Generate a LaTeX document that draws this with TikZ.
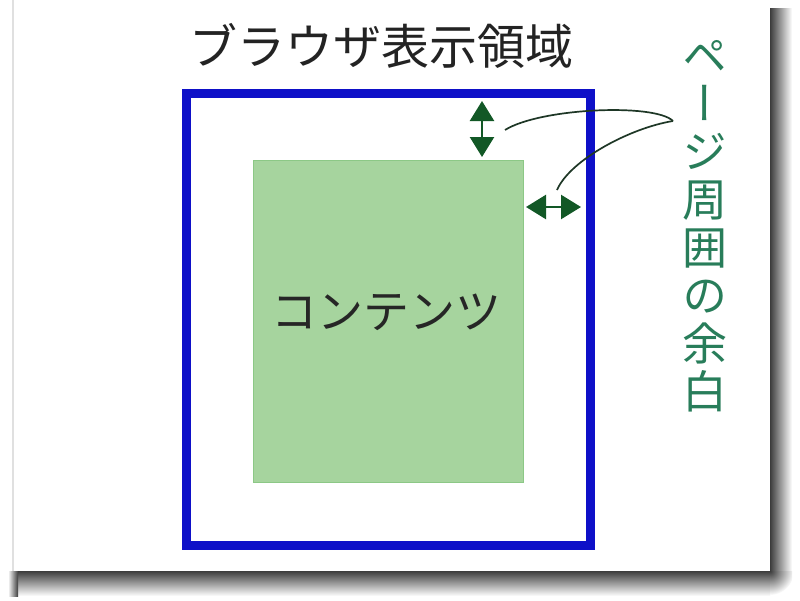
\documentclass[tikz,border=0pt]{standalone}
\usepackage{fontspec}
\usetikzlibrary{arrows.meta}
\newfontfamily\cjk{Noto Sans CJK JP}
\newfontfamily\cjkv[RawFeature={+vert}]{Noto Sans CJK JP}
\definecolor{frameblue}{RGB}{14,16,200}
\definecolor{contfill}{RGB}{166,212,158}
\definecolor{contedge}{RGB}{140,200,134}
\definecolor{arrgreen}{RGB}{18,88,38}
\definecolor{leadcol}{RGB}{30,55,38}
\definecolor{sidetext}{RGB}{40,125,90}
\definecolor{titlecol}{RGB}{35,35,35}
\definecolor{shadowcol}{RGB}{60,60,60}
\tikzset{
  framebox/.style={draw=frameblue, line width=9pt},
  contbox/.style={draw=contedge, fill=contfill, line width=1pt},
  marg/.style={draw=arrgreen, line width=2.5pt, {Triangle[width=24pt,length=20pt]}-{Triangle[width=24pt,length=20pt]}},
  leader/.style={draw=leadcol, line width=1.7pt},
}
\begin{document}
\begin{tikzpicture}[x=1pt,y=-1pt]
\useasboundingbox (0,0) rectangle (800,600);
\fill[white] (0,0) rectangle (800,600);
% shadows
\shade[left color=shadowcol, right color=white] (770,8) rectangle (792,571);
\shade[top color=shadowcol, bottom color=white] (18,571) rectangle (770,596);
\shade[left color=white, right color=shadowcol] (8,571) rectangle (18,596);
\begin{scope}
\clip (770,571) rectangle (792,596);
\shade[inner color=shadowcol, outer color=white] (770,571) circle (24);
\end{scope}
% card
\fill[white] (13,0) rectangle (770,571);
\draw[black!12, line width=1.5pt] (13,0) -- (13,571);
% frame and content
\draw[framebox] (186,93) rectangle (590,545);
\draw[contbox] (253,160) rectangle (523,482);
\node[font=\cjk\fontsize{46}{46}\selectfont, text=black!85] (cont) at (386,312) {コンテンツ};
\node[font=\cjk\fontsize{48}{48}\selectfont, text=titlecol] (title) at (381,46) {ブラウザ表示領域};
\node[font=\cjkv\fontsize{45}{48}\selectfont, text=sidetext, align=center, inner sep=0pt] (side) at (705,226)
  {ペ\\ー\\ジ\\周\\囲\\の\\余\\白};
% margin arrows
\coordinate (vt) at (482,101);
\coordinate (vb) at (482,157);
\coordinate (hl) at (526,207);
\coordinate (hr) at (581,207);
\draw[marg] (vt) -- (vb);
\draw[marg] (hl) -- (hr);
% leader lines
\coordinate (lp) at (673,121);
\coordinate (l1) at (505,130);
\coordinate (l2) at (557,190);
\draw[leader] (l1) .. controls (540,108) and (655,103) .. (lp);
\draw[leader] (lp) .. controls (630,128) and (570,160) .. (l2);
\end{tikzpicture}
\end{document}
